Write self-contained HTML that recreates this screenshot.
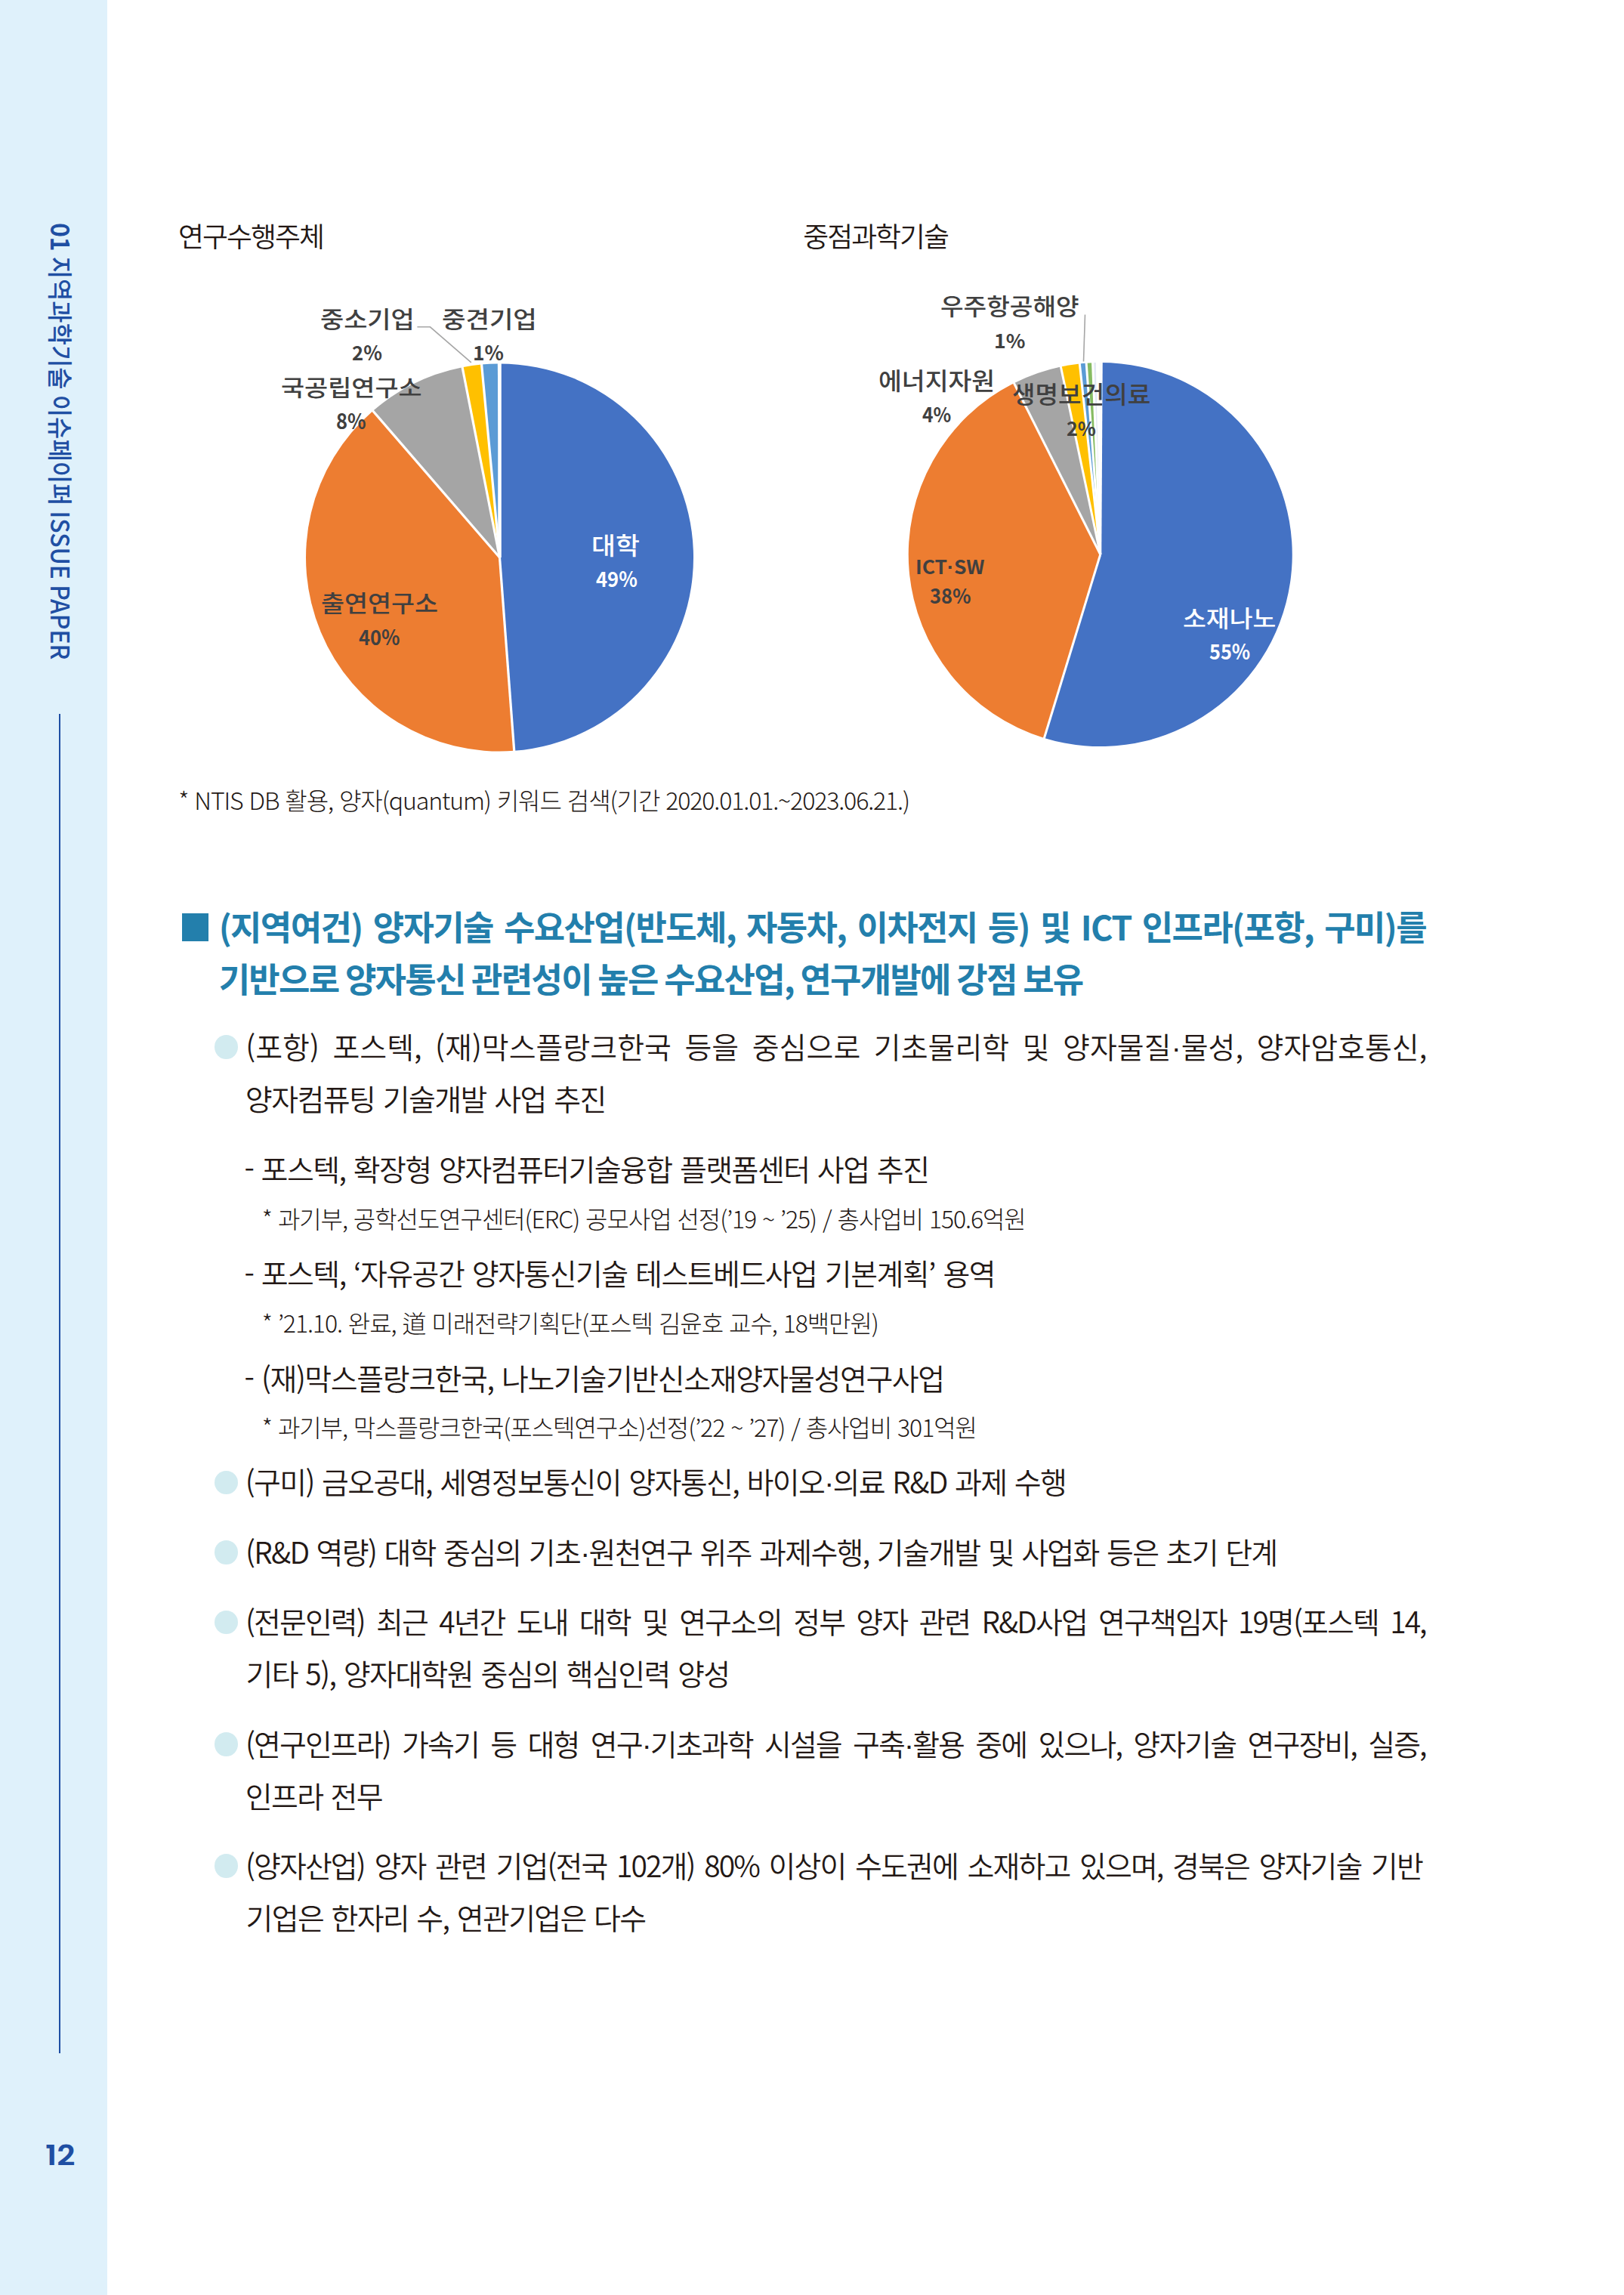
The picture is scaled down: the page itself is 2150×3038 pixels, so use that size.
<!DOCTYPE html>
<html><head><meta charset="utf-8"><title>ISSUE PAPER 12</title>
<style>
html,body{margin:0;padding:0;background:#fff;}
body{width:2150px;height:3038px;position:relative;overflow:hidden;}
.t{position:absolute;margin:0;padding:0;}
.pu{position:relative;top:-2.2px;}
.hy{position:relative;top:-3.5px;}
</style></head><body>
<div style="position:absolute;left:0;top:0;width:142px;height:3038px;background:#dff1fb"></div>
<div class="t" style="left:114.26px;top:295.46px;transform-origin:0 0;transform:rotate(90deg) scaleX(0.9540);font-family:'Noto Sans CJK KR','Liberation Sans',sans-serif;font-size:33.4px;line-height:66.80px;color:#1f4fa3;font-weight:500;white-space:pre"><b style="font-weight:700">01</b> 지역과학기술 이슈페이퍼 ISSUE PAPER</div>
<div style="position:absolute;left:78px;top:945px;width:2px;height:1773px;background:#1f4fa3"></div>
<div class="t" style="left:60.01px;top:2815.12px;font-family:'Poppins','Liberation Sans',sans-serif;font-size:37.84px;font-weight:600;line-height:75.68px;color:#1f4fa3;letter-spacing:0.0em;white-space:pre;transform-origin:0 0;transform:scaleX(1.1155)">12</div>
<div class="t" style="left:235.92px;top:275.25px;font-family:'Noto Sans CJK KR','Liberation Sans',sans-serif;font-size:36.92px;font-weight:350;line-height:73.85px;color:#231815;letter-spacing:-1.954px;white-space:pre">연구수행주체</div>
<div class="t" style="left:1063.25px;top:275.15px;font-family:'Noto Sans CJK KR','Liberation Sans',sans-serif;font-size:36.92px;font-weight:350;line-height:73.85px;color:#231815;letter-spacing:-2.011px;white-space:pre">중점과학기술</div>
<svg class="abs" width="2150" height="1100" viewBox="0 0 2150 1100" style="position:absolute;left:0;top:0"><path d="M661.50,738.00 L661.50,481.50 A256.5,256.5 0 0 1 680.73,993.78 Z" fill="#4472c4"/><path d="M661.50,738.00 L680.73,993.78 A256.5,256.5 0 0 1 493.73,543.98 Z" fill="#ed7d31"/><path d="M661.50,738.00 L493.73,543.98 A256.5,256.5 0 0 1 612.12,486.30 Z" fill="#a5a5a5"/><path d="M661.50,738.00 L612.12,486.30 A256.5,256.5 0 0 1 637.58,482.62 Z" fill="#ffc000"/><path d="M661.50,738.00 L637.58,482.62 A256.5,256.5 0 0 1 658.81,481.51 Z" fill="#5b9bd5"/><line x1="661.50" y1="738.00" x2="661.50" y2="479.50" stroke="#fff" stroke-width="3.2"/><line x1="661.50" y1="738.00" x2="680.88" y2="995.77" stroke="#fff" stroke-width="3.2"/><line x1="661.50" y1="738.00" x2="492.42" y2="542.46" stroke="#fff" stroke-width="3.2"/><line x1="661.50" y1="738.00" x2="611.73" y2="484.34" stroke="#fff" stroke-width="3.2"/><line x1="661.50" y1="738.00" x2="637.40" y2="480.63" stroke="#fff" stroke-width="3.2"/><line x1="661.50" y1="738.00" x2="661.50" y2="479.50" stroke="#fff" stroke-width="4.5"/><polyline points="552.4,432.8 569.5,432.8 623.8,479.8" fill="none" stroke="#a6a6a6" stroke-width="1.6"/><path d="M1456.75,734.00 L1456.75,480.00 A254.0,254.0 0 1 1 1382.49,976.90 Z" fill="#4472c4"/><path d="M1456.75,734.00 L1382.49,976.90 A254.0,254.0 0 0 1 1342.42,507.18 Z" fill="#ed7d31"/><path d="M1456.75,734.00 L1342.42,507.18 A254.0,254.0 0 0 1 1404.37,485.46 Z" fill="#a5a5a5"/><path d="M1456.75,734.00 L1404.37,485.46 A254.0,254.0 0 0 1 1429.32,481.49 Z" fill="#ffc000"/><path d="M1456.75,734.00 L1429.32,481.49 A254.0,254.0 0 0 1 1438.15,480.68 Z" fill="#5b9bd5"/><path d="M1456.75,734.00 L1438.15,480.68 A254.0,254.0 0 0 1 1446.56,480.20 Z" fill="#86bb62"/><path d="M1456.75,734.00 L1446.56,480.20 A254.0,254.0 0 0 1 1450.99,480.07 Z" fill="#e4e9f5"/><line x1="1456.75" y1="734.00" x2="1381.90" y2="978.81" stroke="#fff" stroke-width="3.0"/><line x1="1456.75" y1="734.00" x2="1341.52" y2="505.40" stroke="#fff" stroke-width="3.0"/><line x1="1456.75" y1="734.00" x2="1403.96" y2="483.50" stroke="#fff" stroke-width="3.0"/><line x1="1456.75" y1="734.00" x2="1429.10" y2="479.50" stroke="#fff" stroke-width="3.0"/><line x1="1456.75" y1="734.00" x2="1438.00" y2="478.69" stroke="#fff" stroke-width="3.0"/><line x1="1456.75" y1="734.00" x2="1446.48" y2="478.21" stroke="#fff" stroke-width="3.0"/><path d="M1456.75,734.00 L1450.94,478.07 A256.0,256.0 0 0 1 1456.75,478.00 Z" fill="#ffffff"/><line x1="1456.75" y1="734.00" x2="1458.25" y2="478.00" stroke="#fff" stroke-width="3"/><line x1="1436.5" y1="416.5" x2="1434.5" y2="478.5" stroke="#a6a6a6" stroke-width="1.6"/></svg>
<div class="t" style="left:423.70px;top:390.91px;font-family:'Noto Sans CJK KR','Liberation Sans',sans-serif;font-size:30.32px;font-weight:500;line-height:60.65px;color:#404040;letter-spacing:0.0em;white-space:pre;transform-origin:0 0;transform:scaleX(1.1181)">중소기업</div>
<div class="t" style="left:465.97px;top:439.71px;font-family:'Noto Sans CJK KR','Liberation Sans',sans-serif;font-size:26.32px;font-weight:700;line-height:52.63px;color:#404040;letter-spacing:0.0em;white-space:pre;transform-origin:0 0;transform:scaleX(0.9757)">2%</div>
<div class="t" style="left:585.29px;top:390.91px;font-family:'Noto Sans CJK KR','Liberation Sans',sans-serif;font-size:30.32px;font-weight:500;line-height:60.65px;color:#404040;letter-spacing:0.0em;white-space:pre;transform-origin:0 0;transform:scaleX(1.1275)">중견기업</div>
<div class="t" style="left:625.89px;top:439.71px;font-family:'Noto Sans CJK KR','Liberation Sans',sans-serif;font-size:26.32px;font-weight:700;line-height:52.63px;color:#404040;letter-spacing:0.0em;white-space:pre;transform-origin:0 0;transform:scaleX(1.0028)">1%</div>
<div class="t" style="left:372.01px;top:480.53px;font-family:'Noto Sans CJK KR','Liberation Sans',sans-serif;font-size:30.11px;font-weight:500;line-height:60.22px;color:#404040;letter-spacing:0.0em;white-space:pre;transform-origin:0 0;transform:scaleX(1.1232)">국공립연구소</div>
<div class="t" style="left:445.22px;top:527.76px;font-family:'Noto Sans CJK KR','Liberation Sans',sans-serif;font-size:28.29px;font-weight:700;line-height:56.58px;color:#404040;letter-spacing:0.0em;white-space:pre;transform-origin:0 0;transform:scaleX(0.9018)">8%</div>
<div class="t" style="left:425.32px;top:766.75px;font-family:'Noto Sans CJK KR','Liberation Sans',sans-serif;font-size:30.43px;font-weight:500;line-height:60.86px;color:#404040;letter-spacing:0.0em;white-space:pre;transform-origin:0 0;transform:scaleX(1.1071)">출연연구소</div>
<div class="t" style="left:475.49px;top:815.21px;font-family:'Noto Sans CJK KR','Liberation Sans',sans-serif;font-size:27.63px;font-weight:700;line-height:55.26px;color:#404040;letter-spacing:0.0em;white-space:pre;transform-origin:0 0;transform:scaleX(0.9177)">40%</div>
<div class="t" style="left:783.23px;top:687.97px;font-family:'Noto Sans CJK KR','Liberation Sans',sans-serif;font-size:32.26px;font-weight:500;line-height:64.52px;color:#ffffff;letter-spacing:0.0em;white-space:pre;transform-origin:0 0;transform:scaleX(1.0751)">대학</div>
<div class="t" style="left:788.99px;top:738.21px;font-family:'Noto Sans CJK KR','Liberation Sans',sans-serif;font-size:27.63px;font-weight:700;line-height:55.26px;color:#ffffff;letter-spacing:0.0em;white-space:pre;transform-origin:0 0;transform:scaleX(0.9264)">49%</div>
<div class="t" style="left:1245.34px;top:374.35px;font-family:'Noto Sans CJK KR','Liberation Sans',sans-serif;font-size:30.43px;font-weight:500;line-height:60.86px;color:#404040;letter-spacing:0.0em;white-space:pre;transform-origin:0 0;transform:scaleX(1.0942)">우주항공해양</div>
<div class="t" style="left:1315.87px;top:423.97px;font-family:'Noto Sans CJK KR','Liberation Sans',sans-serif;font-size:25.92px;font-weight:700;line-height:51.84px;color:#404040;letter-spacing:0.0em;white-space:pre;transform-origin:0 0;transform:scaleX(1.0288)">1%</div>
<div class="t" style="left:1162.99px;top:470.95px;font-family:'Noto Sans CJK KR','Liberation Sans',sans-serif;font-size:31.61px;font-weight:500;line-height:63.23px;color:#404040;letter-spacing:0.0em;white-space:pre;transform-origin:0 0;transform:scaleX(1.0601)">에너지자원</div>
<div class="t" style="left:1220.91px;top:520.65px;font-family:'Noto Sans CJK KR','Liberation Sans',sans-serif;font-size:26.84px;font-weight:700;line-height:53.68px;color:#404040;letter-spacing:0.0em;white-space:pre;transform-origin:0 0;transform:scaleX(0.9190)">4%</div>
<div class="t" style="left:1340.27px;top:487.50px;font-family:'Noto Sans CJK KR','Liberation Sans',sans-serif;font-size:32.17px;font-weight:500;line-height:64.35px;color:#404040;letter-spacing:0.0em;white-space:pre;transform-origin:0 0;transform:scaleX(1.0326)">생명보건의료</div>
<div class="t" style="left:1412.00px;top:539.67px;font-family:'Noto Sans CJK KR','Liberation Sans',sans-serif;font-size:25.92px;font-weight:700;line-height:51.84px;color:#404040;letter-spacing:0.0em;white-space:pre;transform-origin:0 0;transform:scaleX(0.9645)">2%</div>
<div class="t" style="left:1211.62px;top:723.46px;font-family:'Noto Sans CJK KR','Liberation Sans',sans-serif;font-size:25.79px;font-weight:700;line-height:51.58px;color:#404040;letter-spacing:0.0em;white-space:pre;transform-origin:0 0;transform:scaleX(1.0236)">ICT<span style="font-family:'Liberation Sans'">·</span>SW</div>
<div class="t" style="left:1231.24px;top:760.39px;font-family:'Noto Sans CJK KR','Liberation Sans',sans-serif;font-size:27.37px;font-weight:700;line-height:54.74px;color:#404040;letter-spacing:0.0em;white-space:pre;transform-origin:0 0;transform:scaleX(0.9310)">38%</div>
<div class="t" style="left:1566.32px;top:786.91px;font-family:'Noto Sans CJK KR','Liberation Sans',sans-serif;font-size:30.32px;font-weight:500;line-height:60.65px;color:#ffffff;letter-spacing:0.0em;white-space:pre;transform-origin:0 0;transform:scaleX(1.1054)">소재나노</div>
<div class="t" style="left:1601.44px;top:833.83px;font-family:'Noto Sans CJK KR','Liberation Sans',sans-serif;font-size:27.89px;font-weight:700;line-height:55.79px;color:#ffffff;letter-spacing:0.0em;white-space:pre;transform-origin:0 0;transform:scaleX(0.9066)">55%</div>
<div class="t" style="left:236.33px;top:1026.10px;font-family:'Noto Sans CJK KR','Liberation Sans',sans-serif;font-size:32.1px;font-weight:300;line-height:64.2px;color:#231815;letter-spacing:-1.134px;word-spacing:2.0px;white-space:pre;">* NTIS DB 활용, 양자(quantum) 키워드 검색(기간 2020.01.01.~2023.06.21.)</div>
<div style="position:absolute;left:240.7px;top:1209.4px;width:35.5px;height:36.4px;background:#237fac"></div>
<div class="t" style="left:289.65px;top:1180.58px;font-family:'Noto Sans CJK KR','Liberation Sans',sans-serif;font-size:45px;font-weight:700;line-height:90px;color:#237fac;letter-spacing:-1.6px;word-spacing:0.0px;width:1598.35px;text-align:justify;text-align-last:justify;">(지역여건) 양자기술 수요산업(반도체, 자동차, 이차전지 등) 및 ICT 인프라(포항, 구미)를</div>
<div class="t" style="left:289.65px;top:1249.63px;font-family:'Noto Sans CJK KR','Liberation Sans',sans-serif;font-size:45px;font-weight:700;line-height:90px;color:#237fac;letter-spacing:-1.715px;word-spacing:0.0px;white-space:pre;">기반으로 양자통신 관련성이 높은 수요산업, 연구개발에 강점 보유</div>
<div style="position:absolute;left:283.90px;top:1370.40px;width:31.4px;height:31.8px;border-radius:50%;background:#d2ebf0"></div>
<div class="t" style="left:325.29px;top:1345.30px;font-family:'Noto Sans CJK KR','Liberation Sans',sans-serif;font-size:39px;font-weight:350;line-height:78px;color:#231815;letter-spacing:0.0px;word-spacing:3.27px;width:1563.91px;text-align:justify;text-align-last:justify;"><span class="pu">(</span>포항<span class="pu">)</span> 포스텍, <span class="pu">(</span>재<span class="pu">)</span>막스플랑크한국 등을 중심으로 기초물리학 및 양자물질<span style="font-family:'Liberation Sans'">·</span>물성, 양자암호통신,</div>
<div class="t" style="left:324.87px;top:1414.20px;font-family:'Noto Sans CJK KR','Liberation Sans',sans-serif;font-size:39px;font-weight:350;line-height:78px;color:#231815;letter-spacing:-1.59px;word-spacing:3.27px;white-space:pre;">양자컴퓨팅 기술개발 사업 추진</div>
<div class="t" style="left:323.45px;top:1506.90px;font-family:'Noto Sans CJK KR','Liberation Sans',sans-serif;font-size:39px;font-weight:350;line-height:78px;color:#231815;letter-spacing:-1.588px;word-spacing:3.27px;white-space:pre;"><span class="hy">-</span> 포스텍, 확장형 양자컴퓨터기술융합 플랫폼센터 사업 추진</div>
<div class="t" style="left:346.84px;top:1579.95px;font-family:'Noto Sans CJK KR','Liberation Sans',sans-serif;font-size:32.0px;font-weight:300;line-height:64.0px;color:#231815;letter-spacing:-1.093px;word-spacing:2.0px;white-space:pre;">* 과기부, 공학선도연구센터(ERC) 공모사업 선정(’19 ~ ’25) / 총사업비 150.6억원</div>
<div class="t" style="left:323.45px;top:1645.30px;font-family:'Noto Sans CJK KR','Liberation Sans',sans-serif;font-size:39px;font-weight:350;line-height:78px;color:#231815;letter-spacing:-1.551px;word-spacing:3.27px;white-space:pre;"><span class="hy">-</span> 포스텍, ‘자유공간 양자통신기술 테스트베드사업 기본계획’ 용역</div>
<div class="t" style="left:346.84px;top:1718.05px;font-family:'Noto Sans CJK KR','Liberation Sans',sans-serif;font-size:32.0px;font-weight:300;line-height:64.0px;color:#231815;letter-spacing:-1.08px;word-spacing:2.0px;white-space:pre;">* ’21.10. 완료, 道 미래전략기획단(포스텍 김윤호 교수, 18백만원)</div>
<div class="t" style="left:323.45px;top:1783.70px;font-family:'Noto Sans CJK KR','Liberation Sans',sans-serif;font-size:39px;font-weight:350;line-height:78px;color:#231815;letter-spacing:-1.43px;word-spacing:3.27px;white-space:pre;"><span class="hy">-</span> <span class="pu">(</span>재<span class="pu">)</span>막스플랑크한국, 나노기술기반신소재양자물성연구사업</div>
<div class="t" style="left:346.84px;top:1856.05px;font-family:'Noto Sans CJK KR','Liberation Sans',sans-serif;font-size:32.0px;font-weight:300;line-height:64.0px;color:#231815;letter-spacing:-1.085px;word-spacing:2.0px;white-space:pre;">* 과기부, 막스플랑크한국(포스텍연구소)선정(’22 ~ ’27) / 총사업비 301억원</div>
<div style="position:absolute;left:283.90px;top:1946.50px;width:31.4px;height:31.8px;border-radius:50%;background:#d2ebf0"></div>
<div class="t" style="left:324.69px;top:1921.40px;font-family:'Noto Sans CJK KR','Liberation Sans',sans-serif;font-size:39px;font-weight:350;line-height:78px;color:#231815;letter-spacing:-1.637px;word-spacing:3.27px;white-space:pre;"><span class="pu">(</span>구미<span class="pu">)</span> 금오공대, 세영정보통신이 양자통신, 바이오<span style="font-family:'Liberation Sans'">·</span>의료 R&amp;D 과제 수행</div>
<div style="position:absolute;left:283.90px;top:2039.30px;width:31.4px;height:31.8px;border-radius:50%;background:#d2ebf0"></div>
<div class="t" style="left:324.99px;top:2014.20px;font-family:'Noto Sans CJK KR','Liberation Sans',sans-serif;font-size:39px;font-weight:350;line-height:78px;color:#231815;letter-spacing:-1.705px;word-spacing:3.27px;white-space:pre;"><span class="pu">(</span>R&amp;D 역량<span class="pu">)</span> 대학 중심의 기초<span style="font-family:'Liberation Sans'">·</span>원천연구 위주 과제수행, 기술개발 및 사업화 등은 초기 단계</div>
<div style="position:absolute;left:283.90px;top:2131.50px;width:31.4px;height:31.8px;border-radius:50%;background:#d2ebf0"></div>
<div class="t" style="left:324.99px;top:2106.40px;font-family:'Noto Sans CJK KR','Liberation Sans',sans-serif;font-size:39px;font-weight:350;line-height:78px;color:#231815;letter-spacing:-1.92px;word-spacing:3.27px;width:1562.71px;text-align:justify;text-align-last:justify;"><span class="pu">(</span>전문인력<span class="pu">)</span> 최근 4년간 도내 대학 및 연구소의 정부 양자 관련 R&amp;D사업 연구책임자 19명<span class="pu">(</span>포스텍 14,</div>
<div class="t" style="left:325.47px;top:2175.30px;font-family:'Noto Sans CJK KR','Liberation Sans',sans-serif;font-size:39px;font-weight:350;line-height:78px;color:#231815;letter-spacing:-1.607px;word-spacing:3.27px;white-space:pre;">기타 5<span class="pu">)</span>, 양자대학원 중심의 핵심인력 양성</div>
<div style="position:absolute;left:283.90px;top:2292.80px;width:31.4px;height:31.8px;border-radius:50%;background:#d2ebf0"></div>
<div class="t" style="left:324.99px;top:2267.70px;font-family:'Noto Sans CJK KR','Liberation Sans',sans-serif;font-size:39px;font-weight:350;line-height:78px;color:#231815;letter-spacing:-1.92px;word-spacing:3.27px;width:1562.71px;text-align:justify;text-align-last:justify;"><span class="pu">(</span>연구인프라<span class="pu">)</span> 가속기 등 대형 연구<span style="font-family:'Liberation Sans'">·</span>기초과학 시설을 구축<span style="font-family:'Liberation Sans'">·</span>활용 중에 있으나, 양자기술 연구장비, 실증,</div>
<div class="t" style="left:324.87px;top:2336.60px;font-family:'Noto Sans CJK KR','Liberation Sans',sans-serif;font-size:39px;font-weight:350;line-height:78px;color:#231815;letter-spacing:-1.734px;word-spacing:3.27px;white-space:pre;">인프라 전무</div>
<div style="position:absolute;left:283.90px;top:2453.80px;width:31.4px;height:31.8px;border-radius:50%;background:#d2ebf0"></div>
<div class="t" style="left:324.99px;top:2428.70px;font-family:'Noto Sans CJK KR','Liberation Sans',sans-serif;font-size:39px;font-weight:350;line-height:78px;color:#231815;letter-spacing:-1.92px;word-spacing:3.27px;width:1558.01px;text-align:justify;text-align-last:justify;"><span class="pu">(</span>양자산업<span class="pu">)</span> 양자 관련 기업<span class="pu">(</span>전국 102개<span class="pu">)</span> 80% 이상이 수도권에 소재하고 있으며, 경북은 양자기술 기반</div>
<div class="t" style="left:325.47px;top:2497.60px;font-family:'Noto Sans CJK KR','Liberation Sans',sans-serif;font-size:39px;font-weight:350;line-height:78px;color:#231815;letter-spacing:-1.665px;word-spacing:3.27px;white-space:pre;">기업은 한자리 수, 연관기업은 다수</div>
</body></html>
